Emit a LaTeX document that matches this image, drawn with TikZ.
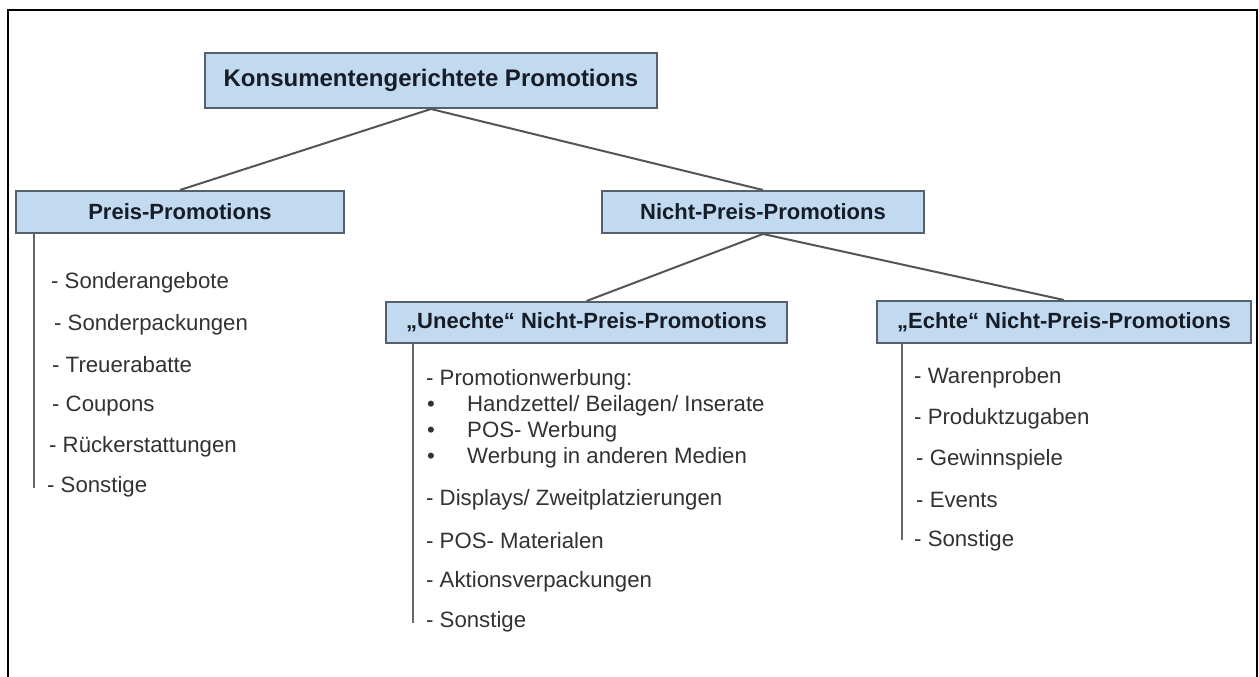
\documentclass[tikz,border=0pt]{standalone}
\usepackage{fontspec}
\setmainfont{Liberation Sans}
\definecolor{boxfill}{RGB}{194,218,240}
\definecolor{boxdraw}{RGB}{85,95,110}
\definecolor{headtxt}{RGB}{22,28,40}
\definecolor{itemtxt}{RGB}{50,50,50}
\definecolor{linecol}{RGB}{85,85,85}
\tikzset{
  hbox/.style={draw=boxdraw, fill=boxfill, line width=2pt, inner sep=0pt,
    text=headtxt, font=\bfseries\fontsize{22}{26}\selectfont},
  conn/.style={draw=linecol, line width=2pt},
  vline/.style={draw=linecol!90, line width=2pt},
  item/.style={anchor=west, inner sep=0pt, text=itemtxt, font=\fontsize{22.2}{26}\selectfont},
}
\begin{document}
\begin{tikzpicture}[x=1pt,y=-1pt]
\useasboundingbox[fill=white] (0,0) rectangle (1259,677);
\draw[line width=2.2pt, black] (8,700) -- (8,10) -- (1257,10) -- (1257,700);

% boxes
\node[hbox, minimum width=452pt, minimum height=55pt, font=\bfseries\fontsize{24}{28}\selectfont] (top) at (431,80.5) {Konsumentengerichtete Promotions};
\node[hbox, minimum width=328pt, minimum height=42pt] (preis) at (180,212) {Preis-Promotions};
\node[hbox, minimum width=322pt, minimum height=42pt] (nicht) at (763,212) {Nicht-Preis-Promotions};
\node[hbox, minimum width=401pt, minimum height=41pt] (unecht) at (586.5,322.5) {„Unechte“ Nicht-Preis-Promotions};
\node[hbox, minimum width=374pt, minimum height=42pt] (echt) at (1064,322) {„Echte“ Nicht-Preis-Promotions};

% connectors
\draw[conn] (top.south) -- (preis.north);
\draw[conn] (top.south) -- (nicht.north);
\draw[conn] (nicht.south) -- (unecht.north);
\draw[conn] (nicht.south) -- (echt.north);

% vertical list lines
\coordinate (pe) at (34,488);
\coordinate (ue) at (413,623);
\coordinate (ee) at (902,540);
\draw[vline] (preis.south -| pe) -- (pe);
\draw[vline] (unecht.south -| ue) -- (ue);
\draw[vline] (echt.south -| ee) -- (ee);

% Preis items
\node[item] (p1) at (51,283) {- Sonderangebote};
\node[item] (p2) at (54,325) {- Sonderpackungen};
\node[item] (p3) at (52,365) {- Treuerabatte};
\node[item] (p4) at (52,406) {- Coupons};
\node[item] (p5) at (49,447) {- Rückerstattungen};
\node[item] (p6) at (47,487) {- Sonstige};

% Unechte items
\node[item] (u1) at (426,380) {- Promotionwerbung:};
\node[item] (b1) at (427,406) {•};
\node[item] (u2) at (467,406) {Handzettel/ Beilagen/ Inserate};
\node[item] (b2) at (427,432) {•};
\node[item] (u3) at (467,432) {POS- Werbung};
\node[item] (b3) at (427,458) {•};
\node[item] (u4) at (467,458) {Werbung in anderen Medien};
\node[item] (u5) at (426,500) {- Displays/ Zweitplatzierungen};
\node[item] (u6) at (426,541) {- POS- Materialen};
\node[item] (u7) at (426,582) {- Aktionsverpackungen};
\node[item] (u8) at (426,622) {- Sonstige};

% Echte items
\node[item] (e1) at (914,378) {- Warenproben};
\node[item] (e2) at (914,419) {- Produktzugaben};
\node[item] (e3) at (916,460) {- Gewinnspiele};
\node[item] (e4) at (916,500) {- Events};
\node[item] (e5) at (914,541) {- Sonstige};
\end{tikzpicture}
\end{document}
